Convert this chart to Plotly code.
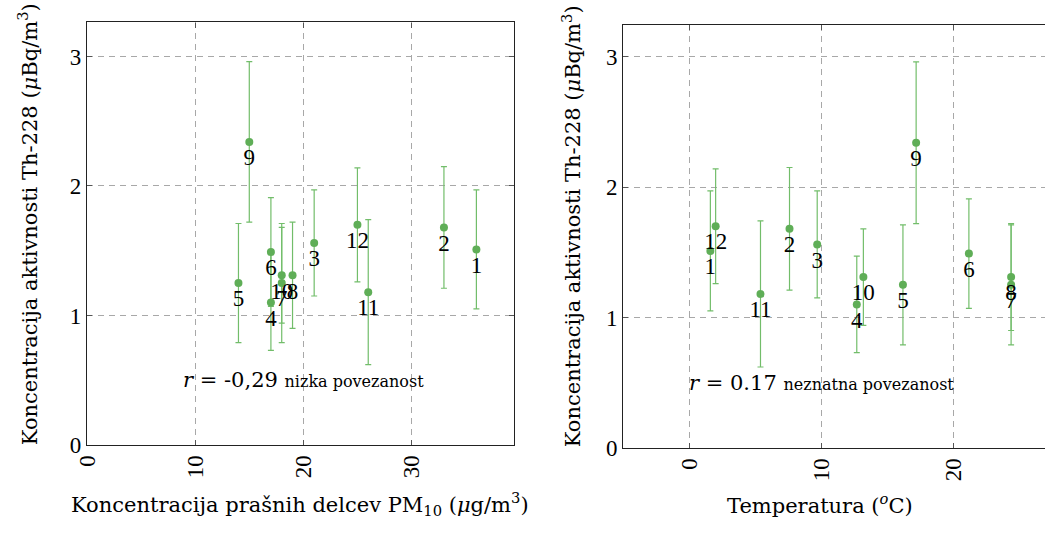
import plotly.graph_objects as go

# ---- data ----
labels = ["1", "2", "3", "4", "5", "6", "7", "8", "9", "10", "11", "12"]
th228 = [1.51, 1.68, 1.56, 1.10, 1.25, 1.49, 1.25, 1.31, 2.34, 1.31, 1.18, 1.70]
th228_err = [0.46, 0.47, 0.41, 0.37, 0.46, 0.42, 0.46, 0.41, 0.62, 0.37, 0.56, 0.44]
pm10 = [36, 33, 21, 17, 14, 17, 18, 19, 15, 18, 26, 25]
temperature = [1.6, 7.6, 9.7, 12.7, 16.2, 21.2, 24.4, 24.4, 17.2, 13.2, 5.4, 2.0]
x_ticks_left = [0, 10, 20, 30]
x_ticks_right = [0, 10, 20]
y_ticks = [0, 1, 2, 3]

FONT = "Liberation Serif"
TFONT = "DejaVu Serif"
GREEN = "#5fae57"
BAR = "#72bd6a"
W, H = 1045, 535

fig = go.Figure()


def add_series(xs, xa, ya):
    fig.add_trace(go.Scatter(
        x=xs, y=th228, mode="markers+text", text=labels,
        textposition="bottom center",
        textfont=dict(family=FONT, size=23, color="black"),
        marker=dict(color=GREEN, size=8),
        error_y=dict(type="data", array=th228_err, color=BAR, thickness=1.2, width=3),
        xaxis=xa, yaxis=ya, showlegend=False, cliponaxis=False,
    ))


add_series(pm10, "x", "y")
add_series(temperature, "x2", "y2")

grid = dict(showgrid=True, gridcolor="#a8a8a8", griddash="6px,5px", gridwidth=1,
            zeroline=False, showline=True, linecolor="#222", linewidth=1.2,
            ticks="inside", ticklen=5, tickcolor="#555",
            tickfont=dict(family=FONT, size=23, color="black"))

fig.update_layout(
    width=W, height=H,
    margin=dict(l=0, r=0, t=0, b=0),
    plot_bgcolor="white", paper_bgcolor="white",
    font=dict(family=FONT, size=23, color="black"),
    xaxis=dict(domain=[75 / W, 507 / W], range=[0, 39.45], tickvals=x_ticks_left,
               tickangle=-90, mirror="ticks", anchor="y", **grid),
    yaxis=dict(domain=[(H - 456) / H, (H - 23) / H], range=[0, 3.263], tickvals=y_ticks,
               mirror="ticks", anchor="x", **grid),
    xaxis2=dict(domain=[618 / W, 1.0], range=[-5, 26.97], tickvals=x_ticks_right,
                tickangle=-90, mirror="ticks", anchor="y2", **grid),
    yaxis2=dict(domain=[(H - 459) / H, (H - 26) / H], range=[0, 3.24], tickvals=y_ticks,
                mirror=False, anchor="x2", **grid),
)

small = "<span style='font-size:16px'>{}</span>"
annotations = [
    dict(x=20, y=0.5, xref="x", yref="y",
         text="<i>r</i> = -0,29 " + small.format("nizka povezanost")),
    dict(x=10, y=0.5, xref="x2", yref="y2",
         text="<i>r</i> = 0.17 " + small.format("neznatna povezanost")),
    dict(x=291 / W, y=(H - 517) / H, xref="paper", yref="paper",
         text="Koncentracija prašnih delcev PM<sub>10</sub> (<i>μ</i>g/m<sup>3</sup>)"),
    dict(x=817 / W, y=(H - 517) / H, xref="paper", yref="paper",
         text="Temperatura (<sup><i>o</i></sup>C)"),
    dict(x=16 / W, y=(H - 230) / H, xref="paper", yref="paper", textangle=-90,
         text="Koncentracija aktivnosti Th-228 (<i>μ</i>Bq/m<sup>3</sup>)"),
    dict(x=566 / W, y=(H - 232) / H, xref="paper", yref="paper", textangle=-90,
         text="Koncentracija aktivnosti Th-228 (<i>μ</i>Bq/m<sup>3</sup>)"),
]
for a in annotations:
    a.update(showarrow=False, xanchor="center", yanchor="middle",
             font=dict(family=TFONT, size=21, color="black"))
fig.update_layout(annotations=annotations)

fig.write_html("out.html")
